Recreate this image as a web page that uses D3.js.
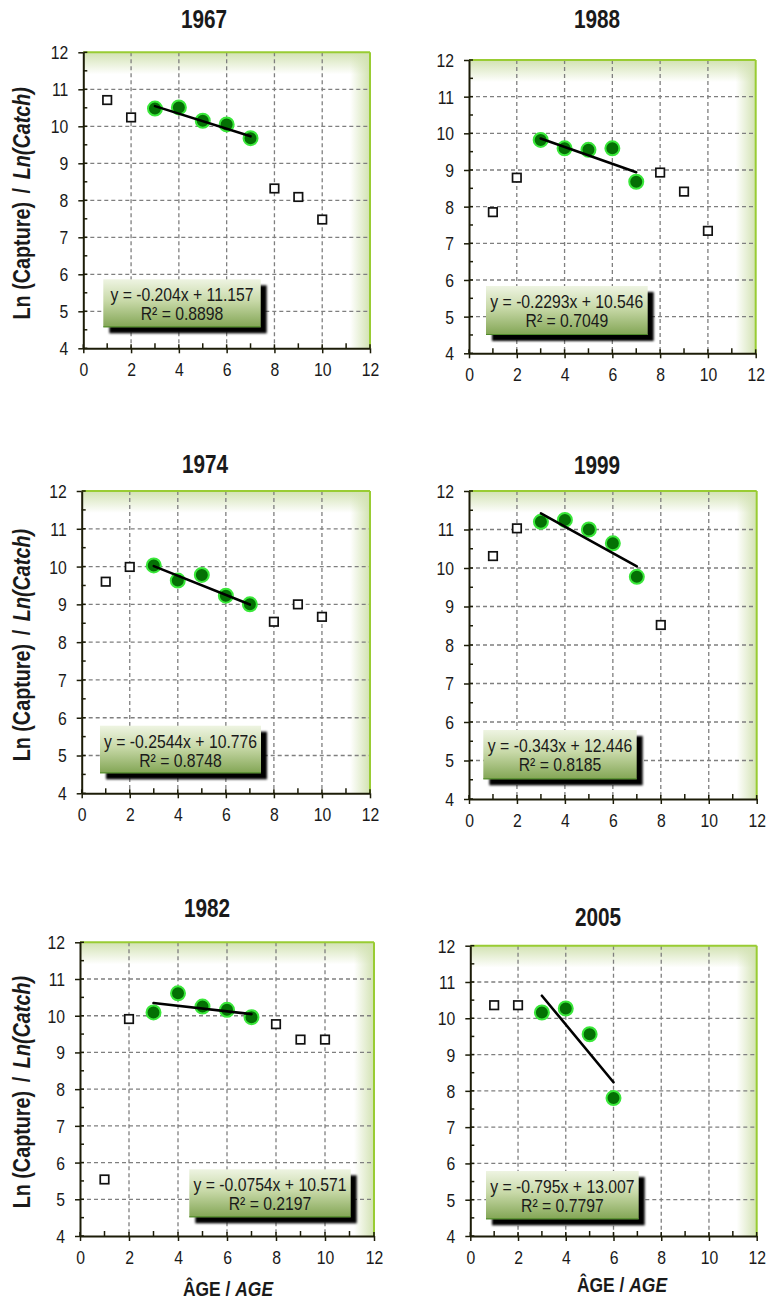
<!DOCTYPE html>
<html><head><meta charset="utf-8">
<script src="https://cdn.jsdelivr.net/npm/d3@7"></script>
<style>
body{margin:0;background:#fff;}
svg{display:block;}
text{font-family:"Liberation Sans",Arial,sans-serif;fill:#1a1a1a;}
</style></head><body>
<svg id="c" width="769" height="1304"></svg>
<script>
// ---- data ----
const years = ["1967","1988","1974","1999","1982","2005"];
const excludedAges = [[1,2,8,9,10],[1,2,8,9,10],[1,2,8,9,10],[1,2,8],[1,2,8,9,10],[1,2]];
const excludedLn = [
  [10.71,10.24,8.32,8.09,7.48],
  [7.85,8.79,8.93,8.41,7.34],
  [9.60,9.99,8.54,9.00,8.67],
  [10.31,11.03,8.52],
  [5.54,9.91,9.77,9.35,9.35],
  [10.36,10.36]
];
const fittedAges = [[3,4,5,6,7],[3,4,5,6,7],[3,4,5,6,7],[3,4,5,6,7],[3,4,5,6,7],[3,4,5,6]];
const fittedLn = [
  [10.48,10.51,10.15,10.05,9.68],
  [9.82,9.59,9.55,9.59,8.68],
  [10.03,9.63,9.78,9.23,9.00],
  [11.20,11.25,11.00,10.64,9.77],
  [10.09,10.61,10.25,10.16,9.96],
  [10.16,10.27,9.56,7.80]
];
const slopes = [-0.204,-0.2293,-0.2544,-0.343,-0.0754,-0.795];
const intercepts = [11.157,10.546,10.776,12.446,10.571,13.007];
const r2 = [0.8898,0.7049,0.8748,0.8185,0.2197,0.7797];
const xTicks = [0,2,4,6,8,10,12];
const xMinor = [1,3,5,7,9,11];
const yTicks = [4,5,6,7,8,9,10,11,12];
const yMinor = [4.5,5.5,6.5,7.5,8.5,9.5,10.5,11.5];
const xDomain = [0,12], yDomain = [4,12];

// ---- layout (positions only) ----
const layout = [
 {l:83.3,t:52.3,r:370,b:348.3, tx:204,ty:28.3, box:[103.3,279.3,260.7,327.3], yt:true},
 {l:469,t:60,r:755.7,b:353.3, tx:597,ty:28.3, box:[486,286,647.7,335]},
 {l:81.7,t:491,r:370,b:793.3, tx:205,ty:473.3, box:[100,725.7,261,773.3], yt:true},
 {l:469,t:491,r:756.7,b:799, tx:597,ty:474, box:[483.3,730,636.7,779.3]},
 {l:80,t:942.3,r:374,b:1236, tx:207,ty:917.3, box:[189.3,1169.3,350.7,1217.3], yt:true, xt:[228,1296]},
 {l:470.3,t:945.7,r:756.7,b:1236, tx:598,ty:925.7, box:[486,1171,638.7,1219.3], xt:[622,1292]}
];
const SQ = 0.83; // horizontal condensing to mimic a narrow face

const svg = d3.select("#c");
const defs = svg.append("defs");
const edge = "#d2e2b2";
const gTop = defs.append("linearGradient").attr("id","gTop").attr("x1",0).attr("y1",0).attr("x2",0).attr("y2",1);
gTop.append("stop").attr("offset","0%").attr("stop-color",edge).attr("stop-opacity",1);
gTop.append("stop").attr("offset","100%").attr("stop-color",edge).attr("stop-opacity",0);
const gRight = defs.append("linearGradient").attr("id","gRight").attr("x1",1).attr("y1",0).attr("x2",0).attr("y2",0);
gRight.append("stop").attr("offset","0%").attr("stop-color",edge).attr("stop-opacity",1);
gRight.append("stop").attr("offset","100%").attr("stop-color",edge).attr("stop-opacity",0);
const gBox = defs.append("linearGradient").attr("id","gBox").attr("x1",0).attr("y1",0).attr("x2",0).attr("y2",1);
gBox.append("stop").attr("offset","0%").attr("stop-color","#eef4e2");
gBox.append("stop").attr("offset","45%").attr("stop-color","#c8d9a8");
gBox.append("stop").attr("offset","100%").attr("stop-color","#82a554");
const blur = defs.append("filter").attr("id","blur").attr("x","-10%").attr("y","-10%").attr("width","130%").attr("height","150%");
blur.append("feGaussianBlur").attr("stdDeviation",1.2);

const axisColor = "#1c1c08";

function narrow(sel, x, y, s, extra) {
  sel.attr("x",0).attr("y",0).attr("transform",`translate(${x},${y})${extra||""} scale(${s},1)`);
  return sel;
}

years.forEach((yr,i)=>{
  const L = layout[i];
  const x = d3.scaleLinear().domain(xDomain).range([L.l,L.r]);
  const y = d3.scaleLinear().domain(yDomain).range([L.b,L.t]);
  const g = svg.append("g");

  // background edge glow
  g.append("rect").attr("x",L.l).attr("y",L.t).attr("width",L.r-L.l).attr("height",22).attr("fill","url(#gTop)");
  g.append("rect").attr("x",L.r-20).attr("y",L.t).attr("width",20).attr("height",L.b-L.t).attr("fill","url(#gRight)");

  // grid
  g.selectAll(".gx").data(xTicks.filter(v=>v>xDomain[0]&&v<xDomain[1])).enter().append("line")
    .attr("x1",d=>x(d)).attr("x2",d=>x(d)).attr("y1",L.t).attr("y2",L.b)
    .attr("stroke","#7f7f7f").attr("stroke-width",1.3).attr("stroke-dasharray","4,3");
  g.selectAll(".gy").data(yTicks.filter(v=>v>yDomain[0]&&v<yDomain[1])).enter().append("line")
    .attr("y1",d=>y(d)).attr("y2",d=>y(d)).attr("x1",L.l).attr("x2",L.r)
    .attr("stroke","#7f7f7f").attr("stroke-width",1.3).attr("stroke-dasharray","4,3");

  // green borders
  g.append("line").attr("x1",L.l).attr("x2",L.r).attr("y1",L.t).attr("y2",L.t).attr("stroke","#99cc33").attr("stroke-width",2);
  g.append("line").attr("x1",L.r).attr("x2",L.r).attr("y1",L.t).attr("y2",L.b).attr("stroke","#99cc33").attr("stroke-width",2);

  // axes
  const ax = g.append("g").attr("transform",`translate(0,${L.b})`)
    .call(d3.axisBottom(x).tickValues(xTicks).tickSizeInner(5).tickSizeOuter(0).tickPadding(10));
  const ay = g.append("g").attr("transform",`translate(${L.l},0)`)
    .call(d3.axisLeft(y).tickValues(yTicks).tickSizeInner(5).tickSizeOuter(0).tickPadding(10));
  [ax,ay].forEach(a=>{
    a.select(".domain").attr("stroke",axisColor).attr("stroke-width",2);
    a.selectAll(".tick line").attr("stroke",axisColor).attr("stroke-width",1.5);
    a.selectAll("text").attr("font-size",19).style("fill","#1a1a1a");
  });
  ax.selectAll(".tick text").each(function(){ narrow(d3.select(this),0,14.5,SQ).attr("dy","0.71em"); });
  ay.selectAll(".tick text").each(function(){ narrow(d3.select(this),-15,0,SQ).attr("dy","0.34em"); });

  // inner parts of major ticks + minor ticks
  g.selectAll(".xu").data(xTicks).enter().append("line")
    .attr("x1",d=>x(d)).attr("x2",d=>x(d)).attr("y1",L.b).attr("y2",L.b-4).attr("stroke",axisColor).attr("stroke-width",1.5);
  g.selectAll(".xm").data(xMinor).enter().append("line")
    .attr("x1",d=>x(d)).attr("x2",d=>x(d)).attr("y1",L.b).attr("y2",L.b-5).attr("stroke",axisColor).attr("stroke-width",1.5);
  g.selectAll(".yu").data(yTicks).enter().append("line")
    .attr("y1",d=>y(d)).attr("y2",d=>y(d)).attr("x1",L.l).attr("x2",L.l+4).attr("stroke",axisColor).attr("stroke-width",1.5);
  g.selectAll(".ym").data(yMinor).enter().append("line")
    .attr("y1",d=>y(d)).attr("y2",d=>y(d)).attr("x1",L.l).attr("x2",L.l+4).attr("stroke",axisColor).attr("stroke-width",1.5);

  // title
  narrow(g.append("text").attr("text-anchor","middle")
    .attr("font-size",25).attr("font-weight","bold").text(yr), L.tx, L.ty, SQ);

  // excluded points (squares)
  const sq = 8.5;
  g.selectAll(".sq").data(excludedAges[i].map((a,k)=>[a,excludedLn[i][k]])).enter().append("rect")
    .attr("x",d=>x(d[0])-sq/2).attr("y",d=>y(d[1])-sq/2).attr("width",sq).attr("height",sq)
    .attr("fill","#fff").attr("stroke","#111").attr("stroke-width",1.7);

  // fitted points (circles)
  g.selectAll(".ci").data(fittedAges[i].map((a,k)=>[a,fittedLn[i][k]])).enter().append("circle")
    .attr("cx",d=>x(d[0])).attr("cy",d=>y(d[1])).attr("r",7)
    .attr("fill","#047004").attr("stroke","#3ae83a").attr("stroke-width",2);

  // regression line
  const a0 = d3.min(fittedAges[i]), a1 = d3.max(fittedAges[i]);
  g.append("line").attr("x1",x(a0)).attr("y1",y(intercepts[i]+slopes[i]*a0))
    .attr("x2",x(a1)).attr("y2",y(intercepts[i]+slopes[i]*a1))
    .attr("stroke","#000").attr("stroke-width",2.6).attr("stroke-linecap","round");

  // equation box
  const [bx0,by0,bx1,by1] = L.box;
  g.append("rect").attr("x",bx0+6).attr("y",by0+6).attr("width",bx1-bx0).attr("height",by1-by0)
    .attr("fill","#000").attr("filter","url(#blur)");
  g.append("rect").attr("x",bx0).attr("y",by0).attr("width",bx1-bx0).attr("height",by1-by0)
    .attr("fill","url(#gBox)");
  g.append("line").attr("x1",bx0).attr("x2",bx1).attr("y1",by1-0.5).attr("y2",by1-0.5).attr("stroke","#4f8a2a").attr("stroke-width",1);
  const cx = (bx0+bx1)/2;
  const sign = intercepts[i] >= 0 ? "+" : "-";
  narrow(g.append("text").attr("text-anchor","middle").attr("font-size",17.5)
    .text(`y = ${slopes[i]}x ${sign} ${Math.abs(intercepts[i])}`), cx, by0+22, 0.9);
  narrow(g.append("text").attr("text-anchor","middle").attr("font-size",17.5)
    .text(`R² = ${r2[i]}`), cx, by0+41, 0.9);

  // y title
  if (L.yt) {
    const cyT = (L.t+L.b)/2 + 3;
    const t = g.append("text").attr("text-anchor","middle").attr("font-size",23).attr("font-weight","bold");
    t.append("tspan").text("Ln (Capture)");
    t.append("tspan").attr("dx",10).text("/");
    t.append("tspan").attr("dx",10).attr("font-style","italic").text("Ln(Catch)");
    narrow(t, 30, cyT, 0.86, " rotate(-90)");
  }
  // x title
  if (L.xt) {
    const t = g.append("text").attr("text-anchor","middle")
      .attr("font-size",21).attr("font-weight","bold");
    t.append("tspan").text("ÂGE / ");
    t.append("tspan").attr("font-style","italic").text("AGE");
    narrow(t, L.xt[0], L.xt[1], SQ);
  }
});
</script>
</body></html>
